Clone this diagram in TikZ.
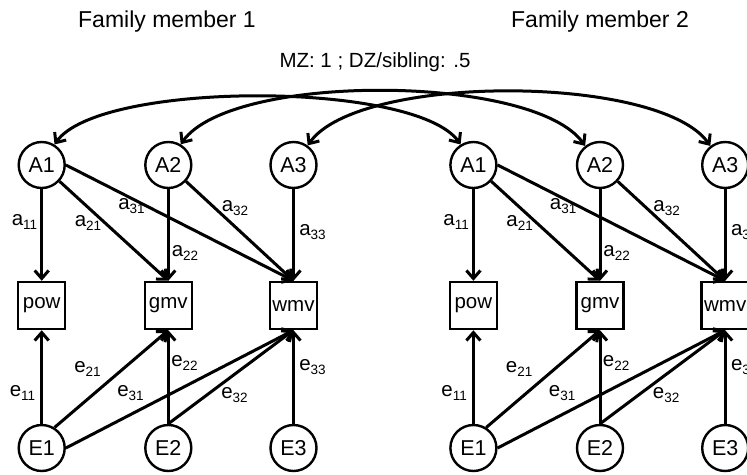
\documentclass[tikz,border=0pt]{standalone}
\usepackage{fontspec}
\setmainfont{Liberation Sans}
\usetikzlibrary{arrows.meta}
\newcommand\nodefont{\fontsize{20.5}{24}\selectfont}
\newcommand\sbl[2]{#1\raisebox{-4pt}{\fontsize{13.5}{14}\selectfont #2}}
\tikzset{
  lat/.style={circle, draw, line width=2.4pt, minimum size=46pt, inner sep=0pt, font=\fontsize{21.5}{25}\selectfont},
  obs/.style={rectangle, draw, line width=2.5pt, minimum size=47pt, inner sep=0pt, font=\nodefont},
  pth/.style={line width=3pt, -{Straight Barb[length=8pt,width=14pt]}},
  cov/.style={line width=3pt, {Straight Barb[length=8pt,width=14pt]}-{Straight Barb[length=8pt,width=14pt]}},
  lbl/.style={inner sep=0pt, font=\nodefont},
  ttl/.style={inner sep=0pt, anchor=base, font=\fontsize{23}{27}\selectfont},
}
\begin{document}
\begin{tikzpicture}[x=1pt,y=1pt]
\useasboundingbox (0,0) rectangle (747,-474);
\clip (0,0) rectangle (747,-474);
\node[ttl] (t1) at (167,-27) {Family member 1};
\node[ttl] (t2) at (600,-27) {Family member 2};
\node[ttl, font=\fontsize{20.5}{24}\selectfont] (mz) at (375,-67) {MZ: 1 ; DZ/sibling: .5};
\foreach \p/\dx in {l/0, r/431.7} {
\begin{scope}[xshift=\dx pt]
  \node[lat] (\p A1) at (41.7,-165) {A1};
  \node[lat] (\p A2) at (168.3,-165) {A2};
  \node[lat] (\p A3) at (293.5,-165) {A3};
  \node[obs] (\p pow) at (41.7,-305.5) {pow};
  \node[obs] (\p gmv) at (168.3,-305.5) {gmv};
  \node[obs] (\p wmv) at (293.5,-305.5) {wmv};
  \node[lat] (\p E1) at (41.7,-448) {E1};
  \node[lat] (\p E2) at (168.3,-448) {E2};
  \node[lat] (\p E3) at (293.5,-448) {E3};
  \draw[pth] (\p A1) -- (\p pow.north);
  \draw[pth] (\p A1) -- (\p gmv.north);
  \draw[pth] (\p A1.east) -- (\p wmv.north);
  \draw[pth] (\p A2) -- (\p gmv.north);
  \draw[pth] (\p A2) -- (\p wmv.north);
  \draw[pth] (\p A3) -- (\p wmv.north);
  \draw[pth] (\p E1) -- (\p pow.south);
  \draw[pth] (\p E1.58) -- (\p gmv.south);
  \draw[pth] (\p E1.east) -- (\p wmv.south);
  \draw[pth] (\p E2.north) -- (\p gmv.south);
  \draw[pth] (\p E2.north) -- (\p wmv.south);
  \draw[pth] (\p E3) -- (\p wmv.south);
  \node[lbl] (\p a11) at (24.5,-221.5) {\sbl{a}{11}};
  \node[lbl] (\p a21) at (88,-222.5) {\sbl{a}{21}};
  \node[lbl] (\p a31) at (131.5,-206) {\sbl{a}{31}};
  \node[lbl] (\p a32) at (235,-208.5) {\sbl{a}{32}};
  \node[lbl] (\p a22) at (185,-252.5) {\sbl{a}{22}};
  \node[lbl] (\p a33) at (312.5,-232.5) {\sbl{a}{33}};
  \node[lbl] (\p e11) at (22.5,-392.5) {\sbl{e}{11}};
  \node[lbl] (\p e21) at (87.5,-368.5) {\sbl{e}{21}};
  \node[lbl] (\p e31) at (130.5,-393.5) {\sbl{e}{31}};
  \node[lbl] (\p e22) at (184.5,-362.5) {\sbl{e}{22}};
  \node[lbl] (\p e32) at (234.5,-395.5) {\sbl{e}{32}};
  \node[lbl] (\p e33) at (312.5,-367.5) {\sbl{e}{33}};
\end{scope}
}
\draw[cov] (lA1.58) to[out=55,in=125,distance=78pt] (rA1.122);
\draw[cov] (lA2.59) to[out=55,in=125,distance=88pt] (rA2.128);
\draw[cov] (lA3.54) to[out=55,in=125,distance=88pt] (rA3.128);
\end{tikzpicture}
\end{document}
